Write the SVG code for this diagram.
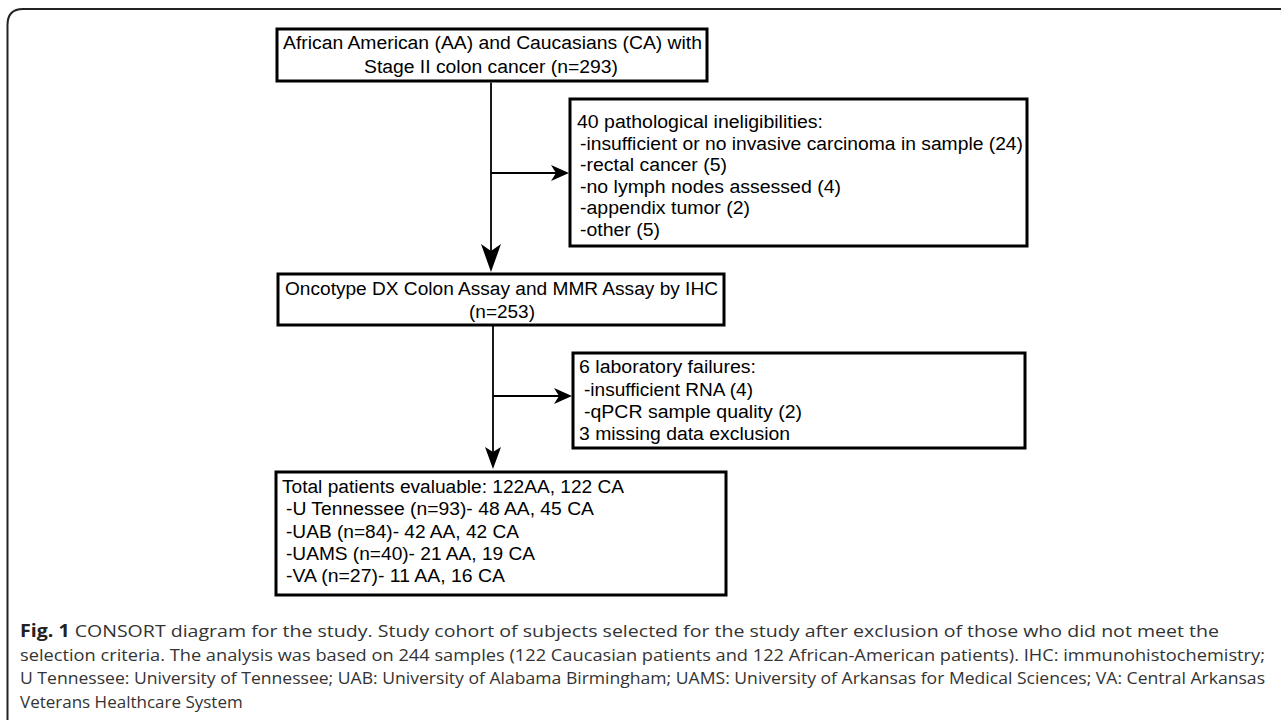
<svg xmlns="http://www.w3.org/2000/svg" width="1281" height="720" viewBox="0 0 1281 720">
<style>
.box{fill:#fff;stroke:#000;stroke-width:3}
.t{font-family:"Liberation Sans",Arial,sans-serif;font-size:18px;fill:#000}
.c{stroke:#000;stroke-width:1.8;fill:none}
.ah{fill:#000;stroke:none}
.cap{font-family:"Open Sans","Noto Sans",sans-serif;font-size:17px;fill:#333}
</style>
<rect width="1281" height="720" fill="#fff"/>
<path d="M7.5,720 V25 Q7.5,9 23,9 H1281" fill="none" stroke="#222" stroke-width="2"/>
<g id="connectors">
<path class="c" d="M491,82.5 V252"/>
<path class="ah" d="M491,272 L481,244 L491,251 L501,244 Z"/>
<path class="c" d="M491,173 H556"/>
<path class="ah" d="M569,173 L551,165 L556,173 L551,181 Z"/>
<path class="c" d="M493,325.5 V452"/>
<path class="ah" d="M493,469 L485,447 L493,452 L501,447 Z"/>
<path class="c" d="M493,396 H559"/>
<path class="ah" d="M572,396 L554,388 L559,396 L554,404 Z"/>
</g>
<g id="node-start">
<rect class="box" x="277" y="29" width="430" height="52"/>
<text class="t" x="283" y="49" textLength="419" lengthAdjust="spacingAndGlyphs">African American (AA) and Caucasians (CA) with</text>
<text class="t" x="491" y="73" text-anchor="middle" textLength="254" lengthAdjust="spacingAndGlyphs">Stage II colon cancer (n=293)</text>
</g>
<g id="node-excl1">
<rect class="box" x="570" y="99" width="457" height="147"/>
<text class="t" x="577" y="128" textLength="246" lengthAdjust="spacingAndGlyphs">40 pathological ineligibilities:</text>
<text class="t" x="580" y="150" textLength="443" lengthAdjust="spacingAndGlyphs">-insufficient or no invasive carcinoma in sample (24)</text>
<text class="t" x="580" y="171" textLength="147" lengthAdjust="spacingAndGlyphs">-rectal cancer (5)</text>
<text class="t" x="580" y="193" textLength="261" lengthAdjust="spacingAndGlyphs">-no lymph nodes assessed (4)</text>
<text class="t" x="580" y="214" textLength="170" lengthAdjust="spacingAndGlyphs">-appendix tumor (2)</text>
<text class="t" x="580" y="236" textLength="80" lengthAdjust="spacingAndGlyphs">-other (5)</text>
</g>
<g id="node-assay">
<rect class="box" x="278" y="274" width="446" height="51"/>
<text class="t" x="285" y="295" textLength="433" lengthAdjust="spacingAndGlyphs">Oncotype DX Colon Assay and MMR Assay by IHC</text>
<text class="t" x="502" y="318" text-anchor="middle" textLength="66" lengthAdjust="spacingAndGlyphs">(n=253)</text>
</g>
<g id="node-excl2">
<rect class="box" x="573" y="353" width="452" height="95"/>
<text class="t" x="579" y="373" textLength="177" lengthAdjust="spacingAndGlyphs">6 laboratory failures:</text>
<text class="t" x="584" y="396" textLength="169" lengthAdjust="spacingAndGlyphs">-insufficient RNA (4)</text>
<text class="t" x="584" y="418" textLength="218" lengthAdjust="spacingAndGlyphs">-qPCR sample quality (2)</text>
<text class="t" x="579" y="440" textLength="211" lengthAdjust="spacingAndGlyphs">3 missing data exclusion</text>
</g>
<g id="node-final">
<rect class="box" x="276" y="472" width="450" height="123"/>
<text class="t" x="282" y="493" textLength="342" lengthAdjust="spacingAndGlyphs">Total patients evaluable: 122AA, 122 CA</text>
<text class="t" x="286" y="515" textLength="308" lengthAdjust="spacingAndGlyphs">-U Tennessee (n=93)- 48 AA, 45 CA</text>
<text class="t" x="286" y="538" textLength="233" lengthAdjust="spacingAndGlyphs">-UAB (n=84)- 42 AA, 42 CA</text>
<text class="t" x="286" y="560" textLength="249" lengthAdjust="spacingAndGlyphs">-UAMS (n=40)- 21 AA, 19 CA</text>
<text class="t" x="286" y="582" textLength="219" lengthAdjust="spacingAndGlyphs">-VA (n=27)- 11 AA, 16 CA</text>
</g>
<g id="caption">
<text class="cap" x="20" y="637" textLength="1199" lengthAdjust="spacingAndGlyphs"><tspan font-weight="bold" fill="#222">Fig. 1</tspan> CONSORT diagram for the study. Study cohort of subjects selected for the study after exclusion of those who did not meet the</text>
<text class="cap" x="20" y="661" textLength="1245" lengthAdjust="spacingAndGlyphs">selection criteria. The analysis was based on 244 samples (122 Caucasian patients and 122 African-American patients). IHC: immunohistochemistry;</text>
<text class="cap" x="20" y="684" textLength="1245" lengthAdjust="spacingAndGlyphs">U Tennessee: University of Tennessee; UAB: University of Alabama Birmingham; UAMS: University of Arkansas for Medical Sciences; VA: Central Arkansas</text>
<text class="cap" x="20" y="708">Veterans Healthcare System</text>
</g>
</svg>
